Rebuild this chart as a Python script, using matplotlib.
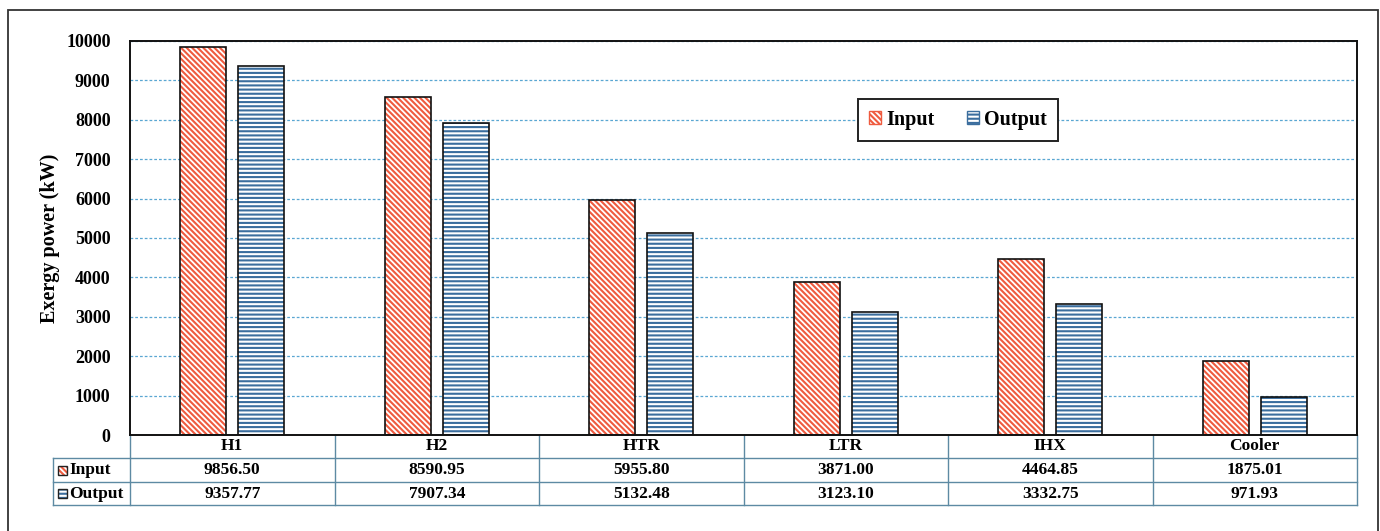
import matplotlib
matplotlib.use("Agg")
import matplotlib.pyplot as plt
from matplotlib.patches import Rectangle
from matplotlib.lines import Line2D
import numpy as np

categories = ["H1", "H2", "HTR", "LTR", "IHX", "Cooler"]
input_vals = [9856.50, 8590.95, 5955.80, 3871.00, 4464.85, 1875.01]
output_vals = [9357.77, 7907.34, 5132.48, 3123.10, 3332.75, 971.93]
yticks = list(range(0, 10001, 1000))

RED = "#ef5b3f"
BLUE = "#3b6e9e"
TABLE_LINE = "#5d8aa3"
GRID = "#5aa7d2"
HATCH_IN = "\\" * 6
HATCH_OUT = "----"

plt.rcParams["font.family"] = ["Liberation Serif", "DejaVu Serif"]
plt.rcParams["font.weight"] = "bold"
plt.rcParams["hatch.linewidth"] = 1.5

W, H = 1380, 531
fig = plt.figure(figsize=(W / 100, H / 100), dpi=100)
fig.patch.set_facecolor("white")

# outer frame
fig.patches.append(Rectangle((8 / W, -0.05), 1370 / W, 1.05 - 10 / H,
                             transform=fig.transFigure, fill=False,
                             edgecolor="#333333", linewidth=1.3))

ax_l, ax_r, ax_t, ax_b = 130, 1357, 41, 435
ax = fig.add_axes([ax_l / W, 1 - ax_b / H, (ax_r - ax_l) / W, (ax_b - ax_t) / H])

x = np.arange(len(categories))
bw = 0.225
off = 0.142


def hatched_bars(xs, vals, color, hatch):
    ax.bar(xs, vals, bw, color="white", edgecolor=color, hatch=hatch,
           linewidth=0, zorder=2)
    ax.bar(xs, vals, bw, fill=False, edgecolor="#111111", linewidth=1.2,
           zorder=3)


hatched_bars(x - off, input_vals, RED, HATCH_IN)
hatched_bars(x + off, output_vals, BLUE, HATCH_OUT)

ax.set_xlim(-0.5, len(categories) - 0.5)
ax.set_ylim(0, 10000)
ax.set_yticks(yticks)
ax.set_xticks([])
ax.tick_params(axis="y", length=0, pad=14, labelsize=13)
for lab in ax.get_yticklabels():
    lab.set_fontweight("bold")
ax.yaxis.grid(True, color=GRID, linestyle=(0, (2.2, 1.6)), linewidth=0.9)
ax.set_axisbelow(True)
for s in ax.spines.values():
    s.set_linewidth(1.4)
    s.set_color("#111111")

ax.set_ylabel("Exergy power (kW)", fontsize=14.5, fontweight="bold", labelpad=4)

# legend
h_in = Rectangle((0, 0), 1, 1, facecolor="white", edgecolor=RED, hatch=HATCH_IN)
h_out = Rectangle((0, 0), 1, 1, facecolor="white", edgecolor=BLUE, hatch=HATCH_OUT)
leg = ax.legend([h_in, h_out], ["Input", "Output"], loc="center",
                bbox_to_anchor=(0.675, 0.80), ncol=2, fancybox=False,
                framealpha=1, edgecolor="#222222", fontsize=14.5,
                handlelength=0.6, handleheight=0.6, handletextpad=0.25,
                columnspacing=1.6, borderpad=0.55, borderaxespad=0)
leg.get_frame().set_linewidth(1.4)
for t in leg.get_texts():
    t.set_fontweight("bold")

# data table beneath the axes
ax_h = ax_b - ax_t
rows_px = [435, 458, 482, 505]
rows = [-(r - ax_b) / ax_h for r in rows_px]
trans = ax.get_xaxis_transform()
col_w = (ax_r - ax_l) / len(categories)
lab_left = -0.5 - (ax_l - 53) / col_w
xmax = len(categories) - 0.5
TFS = 12.5


def tline(xs, ys):
    ax.add_line(Line2D(xs, ys, transform=trans, color=TABLE_LINE,
                       linewidth=1.0, clip_on=False))


for r in rows[1:]:
    tline([lab_left, xmax], [r, r])
for i in range(len(categories) + 1):
    tline([i - 0.5, i - 0.5], [rows[0], rows[3]])
tline([lab_left, lab_left], [rows[1], rows[3]])

for i, c in enumerate(categories):
    ax.text(i, (rows[0] + rows[1]) / 2, c, transform=trans, ha="center",
            va="center", fontsize=TFS, fontweight="bold")
    ax.text(i, (rows[1] + rows[2]) / 2, f"{input_vals[i]:.2f}", transform=trans,
            ha="center", va="center", fontsize=TFS, fontweight="bold")
    ax.text(i, (rows[2] + rows[3]) / 2, f"{output_vals[i]:.2f}", transform=trans,
            ha="center", va="center", fontsize=TFS, fontweight="bold")

sq = 9 / col_w
sq_h = 9 / ax_h
for (r0, r1), name, color, hatch in [((rows[1], rows[2]), "Input", RED, HATCH_IN),
                                     ((rows[2], rows[3]), "Output", BLUE, HATCH_OUT)]:
    yc = (r0 + r1) / 2
    x0 = lab_left + 5 / col_w
    ax.add_patch(Rectangle((x0, yc - sq_h / 2), sq, sq_h, transform=trans,
                           facecolor="white", edgecolor=color, hatch=hatch,
                           linewidth=0, clip_on=False))
    ax.add_patch(Rectangle((x0, yc - sq_h / 2), sq, sq_h, transform=trans,
                           fill=False, edgecolor="#222222", linewidth=1.0,
                           clip_on=False))
    ax.text(x0 + sq + 2 / col_w, yc, name, transform=trans, ha="left",
            va="center", fontsize=TFS, fontweight="bold")

fig.savefig("out.png", dpi=100)
